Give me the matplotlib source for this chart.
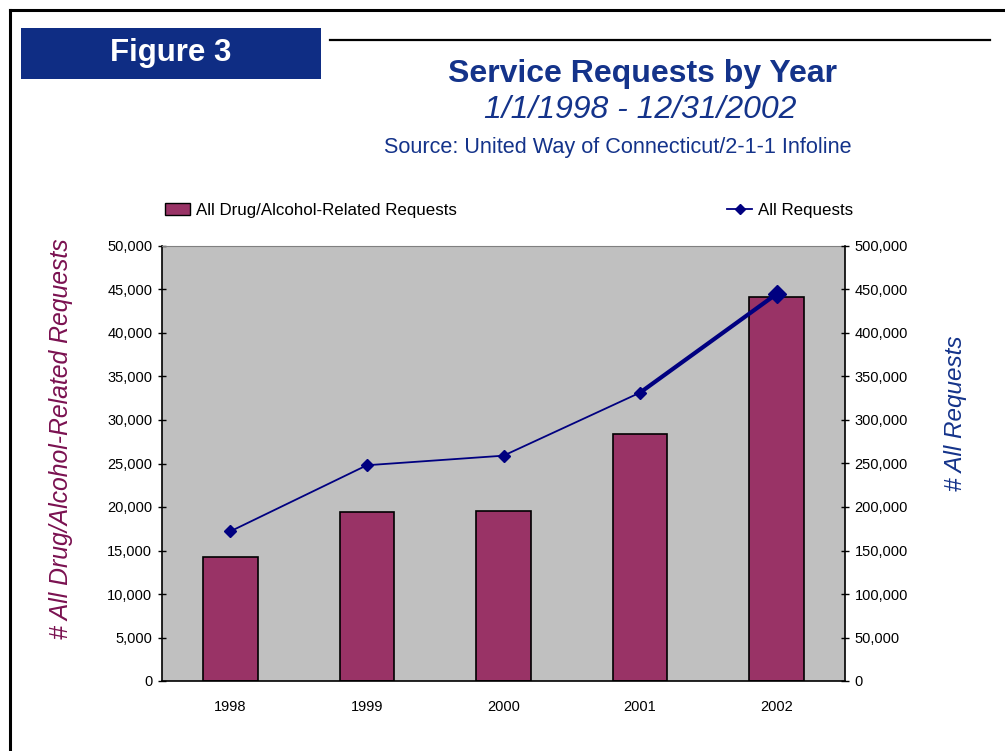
import matplotlib
matplotlib.use('Agg')
import matplotlib.pyplot as plt
from matplotlib.lines import Line2D
from matplotlib.patches import Patch, Rectangle
from matplotlib.ticker import FuncFormatter

plt.rcParams['font.family'] = ['Liberation Sans', 'DejaVu Sans']

years = ['1998', '1999', '2000', '2001', '2002']
drug_alcohol = [14200, 19400, 19500, 28400, 44100]
all_requests = [172000, 248000, 259000, 331500, 445000]

BAR = '#993366'
NAVY = '#000080'
TITLE_BLUE = '#14338A'
BOX_BLUE = '#0F2D84'
MAROON = '#7A1150'

W, H = 1005, 751
fig = plt.figure(figsize=(W / 100, H / 100), dpi=100)


def fx(px):
    return px / W


def fy(py):
    return 1 - py / H


# page frame and header rule
fig.add_artist(Line2D([fx(10), fx(1005)], [fy(10), fy(10)], color='black', lw=2.2))
fig.add_artist(Line2D([fx(10), fx(10)], [fy(10), 0], color='black', lw=2.2))
fig.add_artist(Line2D([fx(330), fx(990)], [fy(40), fy(40)], color='black', lw=1.6))

# "Figure 3" banner
fig.add_artist(Rectangle((fx(21), fy(79)), fx(300), 51 / H, facecolor=BOX_BLUE,
                         edgecolor='none', transform=fig.transFigure))
fig.text(fx(171), fy(53), 'Figure 3', color='white', fontsize=22.5, fontweight='bold',
         ha='center', va='center')

fig.text(fx(642), fy(74), 'Service Requests by Year', color=TITLE_BLUE, fontsize=23,
         fontweight='bold', ha='center', va='center')
fig.text(fx(640), fy(110), '1/1/1998 - 12/31/2002', color=TITLE_BLUE, fontsize=23,
         style='italic', ha='center', va='center')
fig.text(fx(618), fy(147), 'Source: United Way of Connecticut/2-1-1 Infoline',
         color=TITLE_BLUE, fontsize=15.6, ha='center', va='center')

ax = fig.add_axes([fx(162), fy(681), 683 / W, 435 / H])
ax.set_facecolor('#C0C0C0')
x = range(len(years))
ax.bar(x, drug_alcohol, width=0.4, color=BAR, edgecolor='black', linewidth=1.2, zorder=2)
ax.set_xlim(-0.5, len(years) - 0.5)
ax.set_ylim(0, 50000)
ax.set_yticks(range(0, 50001, 5000))
ax.set_xticks(list(x))
ax.set_xticklabels(years)
fmt = FuncFormatter(lambda v, p: f'{v:,.0f}')
ax.yaxis.set_major_formatter(fmt)
ax.tick_params(axis='y', direction='inout', length=6, width=1, labelsize=10.5, pad=4)
ax.tick_params(axis='x', length=0, labelsize=10.5, pad=14)
ax.spines['top'].set_color('#808080')
for s in ('left', 'bottom', 'right'):
    ax.spines[s].set_color('black')
    ax.spines[s].set_linewidth(1.2)

ax2 = ax.twinx()
ax2.plot(list(x)[:4], all_requests[:4], color=NAVY, lw=1.3, marker='D', markersize=6, zorder=3)
ax2.plot(list(x)[3:], all_requests[3:], color=NAVY, lw=3, zorder=3)
ax2.plot(list(x)[4:], all_requests[4:], color=NAVY, lw=0, marker='D', markersize=9, zorder=4)
ax2.set_ylim(0, 500000)
ax2.set_yticks(range(0, 500001, 50000))
ax2.yaxis.set_major_formatter(fmt)
ax2.tick_params(axis='y', direction='inout', length=6, width=1, labelsize=10.5, pad=4)
for s in ax2.spines.values():
    s.set_visible(False)

ax.set_ylabel('# All Drug/Alcohol-Related Requests', color=MAROON, fontsize=17.8, style='italic')
ax.yaxis.set_label_coords((73 - 162) / 683, (681 - 439) / 435)
ax2.set_ylabel('# All Requests', color=TITLE_BLUE, fontsize=17.5, style='italic')
ax2.yaxis.set_label_coords((944 - 162) / 683, (681 - 413) / 435)

# legends sit above the plot area, one at each end
bar_handle = Patch(facecolor=BAR, edgecolor='black', linewidth=1)
line_handle = Line2D([], [], color=NAVY, lw=1.3, marker='D', markersize=5)
leg_kw = dict(loc='center left', frameon=False, fontsize=12.2, borderpad=0,
              borderaxespad=0, handlelength=1.48, handletextpad=0.36)
fig.legend([bar_handle], ['All Drug/Alcohol-Related Requests'],
           bbox_to_anchor=(fx(165), fy(210)), **leg_kw)
fig.legend([line_handle], ['All Requests'],
           bbox_to_anchor=(fx(727), fy(210)), **leg_kw)

fig.savefig('out.png', dpi=100)
